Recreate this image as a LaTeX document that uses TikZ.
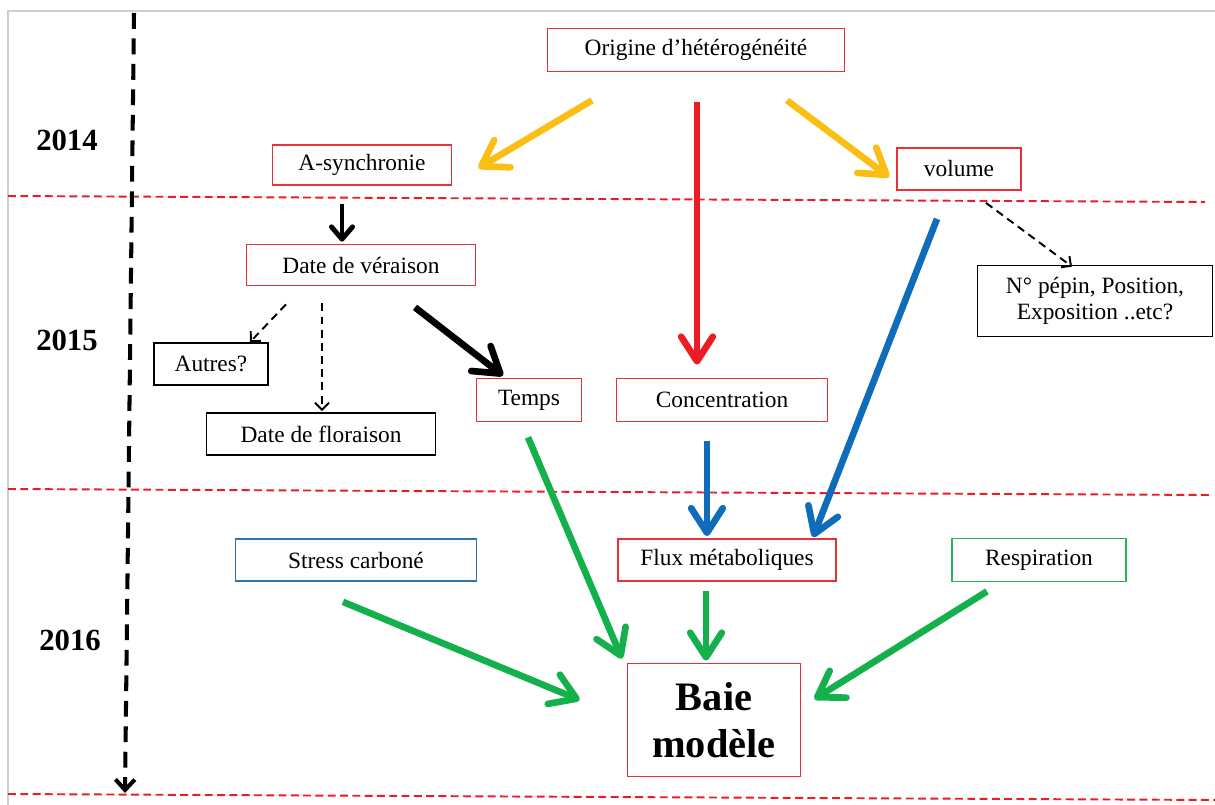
\documentclass[tikz,border=0pt]{standalone}
\usepackage{fontspec}
\setmainfont{Liberation Serif}
\usetikzlibrary{arrows.meta, calc}
\definecolor{boxRed}{RGB}{232,48,56}
\definecolor{boxBlue}{RGB}{46,117,182}
\definecolor{boxGreen}{RGB}{40,180,90}
\definecolor{arrYellow}{RGB}{251,190,20}
\definecolor{arrRed}{RGB}{237,28,36}
\definecolor{arrBlue}{RGB}{14,108,186}
\definecolor{arrGreen}{RGB}{20,176,76}
\definecolor{frameGray}{RGB}{200,210,214}

\tikzset{
  box/.style={draw, line width=1pt, inner sep=0pt, align=center, font=\fontsize{13.3}{15}\selectfont},
  redbox/.style={box, draw=boxRed},
  blackbox/.style={box, draw=black},
  fat/.style={line width=3.8pt, -{Straight Barb[round, length=14pt, width=18pt]}},
  hint/.style={line width=1.1pt, dash pattern=on 4.5pt off 3pt, -{Straight Barb[length=4pt, width=8pt]}},
  yearlabel/.style={font=\fontsize{17.5}{20}\selectfont\bfseries},
  sepline/.style={draw=arrRed, line width=1.1pt, dash pattern=on 4.5pt off 2.5pt}
}

\begin{document}
\begin{tikzpicture}[x=0.02cm, y=-0.02cm]
\useasboundingbox (0,0) rectangle (1215,805);
% Frame
\draw[frameGray, line width=1.2pt] (8,805) -- (8,11) -- (1215,11);

% Year separators
\draw[sepline] (8,196) -- (1205,202);
\draw[sepline] (8,489) -- (1210,495);
\draw[sepline] (8,794) -- (1215,800);

% Time axis
\coordinate (tltop) at (134,13);
\coordinate (tlend) at (125,793);
\draw[line width=2.3pt, dash pattern=on 9pt off 5.5pt, -{Straight Barb[length=6pt, width=11pt]}] (tltop) -- (tlend);

% Years
\node[yearlabel] (y14) at (67,140) {2014};
\node[yearlabel] (y15) at (67,340) {2015};
\node[yearlabel] (y16) at (70,640) {2016};

% Boxes
\node[redbox, minimum width=5.94cm, minimum height=0.86cm] (orig) at (696,50) {Origine d’hétérogénéité};
\node[redbox, minimum width=3.58cm, minimum height=0.8cm] (async) at (362,165) {A-synchronie};
\node[redbox, minimum width=2.48cm, minimum height=0.84cm] (vol) at (959,169) {volume};
\node[redbox, minimum width=4.58cm, minimum height=0.82cm] (verai) at (361,265) {Date de véraison};
\node[blackbox, minimum width=2.28cm, minimum height=0.84cm] (autres) at (211,364) {Autres?};
\node[blackbox, minimum width=4.58cm, minimum height=0.84cm] (flor) at (321,434) {Date de floraison};
\node[redbox, minimum width=2.1cm, minimum height=0.86cm] (temps) at (529,400) {Temps};
\node[redbox, minimum width=4.22cm, minimum height=0.86cm] (conc) at (722,400) {Concentration};
\node[blackbox, minimum width=4.7cm, minimum height=1.42cm] (pepin) at (1095,301) {N° pépin, Position,\\Exposition ..etc?};
\node[redbox, minimum width=4.36cm, minimum height=0.84cm] (flux) at (727,560) {Flux métaboliques};
\node[box, draw=boxBlue, minimum width=4.82cm, minimum height=0.84cm] (stress) at (356,560) {Stress carboné};
\node[box, draw=boxGreen, minimum width=3.48cm, minimum height=0.86cm] (resp) at (1039,560) {Respiration};
\node[redbox, minimum width=3.46cm, minimum height=2.26cm, font=\fontsize{23}{27}\selectfont\bfseries] (baie) at (714,720) {Baie\\modèle};

% Arrows 2014
\draw[fat, arrYellow] ($(orig.south)+(-104,28)$) -- ($(async.east)+(26,3)$);
\draw[fat, arrYellow] ($(orig.south)+(91,28)$) -- ($(vol.west)+(-7,8)$);
\draw[fat, arrRed] ($(orig.south)+(1,30)$) -- ($(conc.north)+(-25,-13)$);

% Arrows 2015
\draw[line width=2.8pt, -{Straight Barb[round, length=7pt, width=12pt]}] ($(async.south)+(-20,18)$) -- ($(verai.north)+(-19,-2)$);
\draw[hint] ($(verai.south)+(-75,18)$) -- ($(autres.north)+(39,0)$);
\draw[hint] ($(verai.south)+(-39,17)$) -- ($(flor.north)+(1,-1)$);
\draw[fat] ($(verai.south)+(54,21)$) -- ($(temps.north)+(-26,-2)$);
\draw[hint] ($(vol.south)+(27,12)$) -- ($(pepin.north)+(-23,2)$);
\draw[fat, arrBlue] ($(vol.south)+(-22,28)$) -- ($(flux.north)+(86,-1)$);
\draw[fat, arrBlue] ($(conc.south)+(-15,19)$) -- ($(flux.north)+(-20,-2)$);

% Arrows 2016
\draw[fat, arrGreen] ($(temps.south)+(-1,15)$) -- ($(baie.north)+(-92,-4)$);
\draw[fat, arrGreen] ($(flux.south)+(-21,9)$) -- ($(baie.north)+(-8,-2)$);
\draw[fat, arrGreen] ($(stress.south)+(-13,20)$) -- ($(baie.west)+(-47,-20)$);
\draw[fat, arrGreen] ($(resp.south)+(-52,9)$) -- ($(baie.east)+(13,-21)$);
\end{tikzpicture}
\end{document}
